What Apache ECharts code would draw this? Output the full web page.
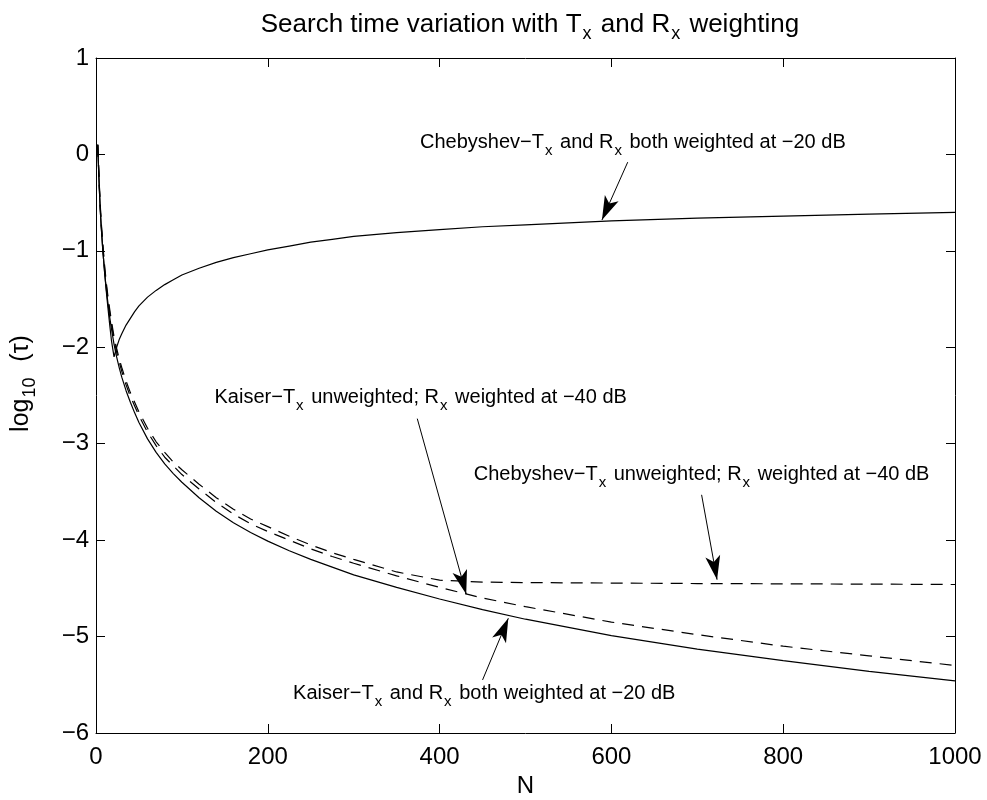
<!DOCTYPE html>
<html lang="en">
<head>
   <meta charset="utf-8">
   <title>Search time variation</title>
   <script src="https://cdn.jsdelivr.net/npm/echarts@6.0.0/dist/echarts.min.js"></script>
   <style>
      body { margin: 0; background: #fff; }
      #chart { width: 987px; height: 800px; }
   </style>
</head>
<body>
   <div id="chart"></div>
   <script>
      // N values shared by all four curves
      var nVals = [2, 3, 4, 5, 6, 8, 10, 12, 14, 16, 18, 21, 24, 27, 30, 35, 40, 45, 50, 60, 70, 80, 90, 100,
         120, 140, 160, 180, 200, 225, 250, 275, 300, 350, 400, 450, 500, 600, 700, 800, 900, 1000];

      // log10(tau)
      var chebBoth = [0.1, -0.15, -0.38, -0.58, -0.74, -1.0, -1.22, -1.42, -1.6, -1.77, -1.93, -2.1, -2.0, -1.92, -1.86, -1.77, -1.7, -1.63, -1.57, -1.48, -1.41, -1.35, -1.3, -1.25,
         -1.18, -1.12, -1.07, -1.03, -0.99, -0.95, -0.91, -0.88, -0.85, -0.81, -0.78, -0.75, -0.73, -0.69, -0.66, -0.64, -0.62, -0.6];
      var kaiserBoth = [0.1, -0.15, -0.38, -0.58, -0.74, -1.0, -1.22, -1.4, -1.55, -1.69, -1.81, -1.97, -2.1, -2.21, -2.31, -2.45, -2.57, -2.68, -2.78, -2.95, -3.09, -3.21, -3.31, -3.4,
         -3.56, -3.7, -3.82, -3.92, -4.01, -4.11, -4.2, -4.28, -4.36, -4.49, -4.61, -4.72, -4.82, -4.99, -5.13, -5.25, -5.36, -5.46];
      var kaiserUnw = [0.1, -0.13, -0.35, -0.55, -0.71, -0.96, -1.18, -1.36, -1.51, -1.64, -1.76, -1.92, -2.05, -2.15, -2.25, -2.39, -2.51, -2.61, -2.71, -2.88, -3.02, -3.14, -3.23, -3.32,
         -3.47, -3.61, -3.73, -3.83, -3.91, -4.0, -4.09, -4.17, -4.24, -4.37, -4.49, -4.6, -4.69, -4.85, -4.98, -5.1, -5.2, -5.3];
      var chebUnw = [0.1, -0.12, -0.34, -0.53, -0.69, -0.94, -1.15, -1.33, -1.48, -1.61, -1.73, -1.89, -2.01, -2.12, -2.21, -2.35, -2.47, -2.57, -2.67, -2.84, -2.98, -3.09, -3.19, -3.27,
         -3.42, -3.56, -3.68, -3.78, -3.86, -3.96, -4.05, -4.13, -4.2, -4.33, -4.415, -4.435, -4.44, -4.445, -4.45, -4.453, -4.456, -4.46];

      // annotations: text position, arrow start, arrow tip (data units)
      var noteTexts = [
         'Chebyshev\u2212T{s|x} and R{s|x} both weighted at \u221220 dB',
         'Kaiser\u2212T{s|x} unweighted; R{s|x} weighted at \u221240 dB',
         'Chebyshev\u2212T{s|x} unweighted; R{s|x} weighted at \u221240 dB',
         'Kaiser\u2212T{s|x} and R{s|x} both weighted at \u221220 dB'
      ];
      var notePos = [[625, 0.12], [378, -2.52], [705, -3.32], [452, -5.59]];
      var arrowFrom = [[619, -0.08], [374, -2.74], [705, -3.53], [450, -5.45]];
      var arrowTo = [[589, -0.68], [431, -4.56], [723, -4.41], [480, -4.81]];

      var xTicks = [0, 1000, 200];
      var yTicks = [-6, 1, 1];

      function zip(xs, ys) {
         return xs.map(function(x, i) { return [x, ys[i]]; });
      }

      var font = 'Liberation Sans, Arial, Helvetica, sans-serif';
      function subStyle(size, drop) {
         return { fontSize: size, fontFamily: font, color: '#000', padding: [drop, 2, 0, 1] };
      }

      var myChart = echarts.init(document.getElementById('chart'), null, { renderer: 'canvas' });

      function axisBase(show) {
         return {
            axisLine: { show: true, onZero: false, lineStyle: { color: '#000', width: 1 } },
            axisTick: { show: true, inside: true, length: 9, lineStyle: { color: '#000' } },
            splitLine: { show: false },
            axisLabel: {
               show: show,
               color: '#000',
               fontSize: 24,
               fontFamily: font,
               formatter: function(v) { return String(v).replace('-', '\u2212'); }
            }
         };
      }

      var xMain = Object.assign(axisBase(true), {
         type: 'value', min: xTicks[0], max: xTicks[1], interval: xTicks[2],
         position: 'bottom',
         name: 'N', nameLocation: 'middle', nameGap: 36,
         nameTextStyle: { fontSize: 24, fontFamily: font, color: '#000' }
      });
      xMain.axisLabel.margin = 12;
      var xTop = Object.assign(axisBase(false), {
         type: 'value', min: xTicks[0], max: xTicks[1], interval: xTicks[2], position: 'top'
      });
      var yMain = Object.assign(axisBase(true), {
         type: 'value', min: yTicks[0], max: yTicks[1], interval: yTicks[2],
         position: 'left',
         name: 'log{s|10}  (\u03c4)', nameLocation: 'middle', nameGap: 57,
         nameTextStyle: {
            fontSize: 25, fontFamily: font, color: '#000',
            padding: [0, 0, 0, 24],
            rich: { s: subStyle(18, 18) }
         }
      });
      yMain.axisLabel.margin = 7;
      var yRight = Object.assign(axisBase(false), {
         type: 'value', min: yTicks[0], max: yTicks[1], interval: yTicks[2], position: 'right'
      });

      function lineSeries(name, values, dashed) {
         return {
            name: name,
            type: 'line',
            data: zip(nVals, values),
            showSymbol: false,
            smooth: false,
            clip: true,
            lineStyle: { color: '#000', width: 1.2, type: dashed ? [12, 8] : 'solid' },
            itemStyle: { color: '#000' },
            silent: true
         };
      }

      var arrowPath = 'path://M0,0L7.5,24L0,18L-7.5,24Z';

      var s1 = lineSeries('chebBoth', chebBoth, false);
      s1.markPoint = {
         symbol: 'circle',
         symbolSize: 0,
         silent: true,
         label: {
            show: true,
            position: 'inside',
            color: '#000',
            fontSize: 20,
            fontFamily: font,
            rich: { s: subStyle(15, 16) }
         },
         data: noteTexts.map(function(t, i) {
            return { coord: notePos[i], label: { formatter: t } };
         })
      };
      s1.markLine = {
         silent: true,
         symbol: ['none', arrowPath],
         symbolSize: 24,
         symbolKeepAspect: true,
         label: { show: false },
         lineStyle: { color: '#000', width: 1, type: 'solid' },
         data: arrowFrom.map(function(p, i) {
            return [{ coord: p }, { coord: arrowTo[i], symbolKeepAspect: true, symbolOffset: [0, 12] }];
         })
      };

      var option = {
         backgroundColor: '#fff',
         animation: false,
         title: {
            text: 'Search time variation with T{s|x} and R{s|x} weighting',
            left: 525,
            textAlign: 'center',
            top: 2,
            textStyle: {
               fontSize: 26, fontWeight: 'normal', fontFamily: font, color: '#000',
               rich: { s: subStyle(18, 18) }
            }
         },
         grid: { left: 96, right: 32, top: 58, bottom: 67, outerBoundsMode: 'none' },
         xAxis: [xMain, xTop],
         yAxis: [yMain, yRight],
         series: [
            s1,
            lineSeries('kaiserBoth', kaiserBoth, false),
            lineSeries('kaiserUnw', kaiserUnw, true),
            lineSeries('chebUnw', chebUnw, true)
         ]
      };

      myChart.setOption(option);
   </script>
</body>
</html>
